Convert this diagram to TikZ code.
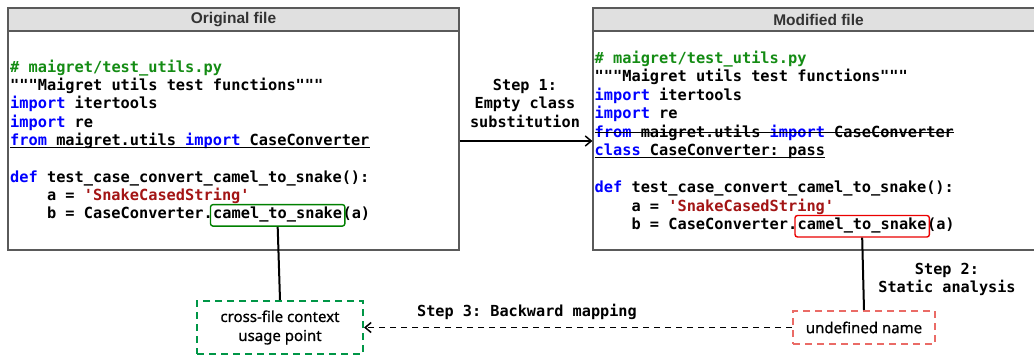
\documentclass[tikz,border=0pt]{standalone}
\usepackage{fontspec}
\setmainfont{Liberation Sans}
\setmonofont{DejaVu Sans Mono}
\newfontfamily\comicfont[FakeBold=0.8]{Noto Sans}
\usetikzlibrary{arrows.meta,fit}
\definecolor{cgreen}{RGB}{20,140,20}
\definecolor{cblue}{RGB}{0,0,255}
\definecolor{cred}{RGB}{163,21,21}
\definecolor{hdrfill}{RGB}{224,224,224}
\definecolor{boxgray}{RGB}{90,90,90}
\definecolor{hdrtext}{RGB}{51,51,51}
\definecolor{dgreen}{RGB}{0,150,70}
\definecolor{dred}{RGB}{234,107,102}
\definecolor{hlgreen}{RGB}{0,128,0}
\definecolor{hlred}{RGB}{235,0,0}
\begin{document}
\begin{tikzpicture}[x=1pt,y=-1pt,
  filebox/.style={draw=boxgray, line width=1.2pt, fill=white, minimum width=451pt, minimum height=242pt, inner sep=0pt},
  hdr/.style={draw=boxgray, line width=1.2pt, fill=hdrfill, minimum width=451pt, minimum height=23pt, inner sep=0pt,
    font=\fontsize{15.5}{17}\selectfont\bfseries, text=hdrtext},
  codeline/.style={anchor=base west, inner sep=0pt, font=\fontsize{15.3}{18}\selectfont\ttfamily\bfseries},
  hlword/.style={codeline, text height=10pt, text depth=3.5pt},
  hlbox/.style={draw, line width=1.4pt, rounded corners=2.5pt, inner xsep=2.5pt, inner ysep=3.8pt},
  steplabel/.style={align=center, inner sep=0pt, font=\fontsize{15.2}{18.5}\selectfont\ttfamily\bfseries},
  comicbox/.style={dashed, dash pattern=on 7pt off 5pt, line width=2pt, align=center, inner sep=0pt,
    font=\fontsize{15}{19}\selectfont\comicfont},
  conn/.style={line width=2pt},
  uline/.style={line width=1.2pt},
  arr/.style={line width=1.5pt, -{Straight Barb[length=6pt,width=10pt]}},
  dasharr/.style={line width=1.5pt, dash pattern=on 6pt off 5pt, -{Straight Barb[length=6pt,width=10pt]}}
]
\useasboundingbox (0,0) rectangle (1034,356);

% ---------- original file ----------
\node[filebox] (orig) at (233.5,129) {};
\node[hdr] (orighdr) at (233.5,19.5) {Original file};
\node[codeline] (l1) at (10,72) {\textcolor{cgreen}{\# maigret/test\_utils.py}};
\node[codeline] (l2) at (10,90.3) {"""Maigret utils test functions"""};
\node[codeline] (l3) at (10,108.6) {\textcolor{cblue}{import} itertools};
\node[codeline] (l4) at (10,127) {\textcolor{cblue}{import} re};
\node[codeline] (l5) at (10,145.3) {\textcolor{cblue}{from} maigret.utils \textcolor{cblue}{import} CaseConverter};
\draw[uline] ([yshift=-2pt]l5.base west) -- ([yshift=-2pt]l5.base east);
\node[codeline] (l6) at (10,182) {\textcolor{cblue}{def} test\_case\_convert\_camel\_to\_snake():};
\node[codeline] (l7) at (46.8,200.3) {a = \textcolor{cred}{'SnakeCasedString'}};
\node[codeline] (l8a) at (46.8,218.6) {b = CaseConverter.};
\node[hlword] (l8b) at (l8a.base east) {camel\_to\_snake};
\node[codeline] (l8c) at (l8b.base east) {(a)};
\node[hlbox, draw=hlgreen, fit=(l8b)] (hlL) {};

% ---------- modified file ----------
\node[filebox] (mod) at (818.5,129) {};
\node[hdr] (modhdr) at (818.5,19.5) {Modified file};
\node[codeline] (r1) at (594.5,63) {\textcolor{cgreen}{\# maigret/test\_utils.py}};
\node[codeline] (r2) at (594.5,81.5) {"""Maigret utils test functions"""};
\node[codeline] (r3) at (594.5,100) {\textcolor{cblue}{import} itertools};
\node[codeline] (r4) at (594.5,118.5) {\textcolor{cblue}{import} re};
\node[codeline] (r5) at (594.5,137) {\textcolor{cblue}{from} maigret.utils \textcolor{cblue}{import} CaseConverter};
\draw[uline] ([yshift=4.6pt]r5.base west) -- ([yshift=4.6pt]r5.base east);
\node[codeline] (r6) at (594.5,155.5) {\textcolor{cblue}{class} CaseConverter: pass};
\draw[uline] ([yshift=-2pt]r6.base west) -- ([yshift=-2pt]r6.base east);
\node[codeline] (r7) at (594.5,192.5) {\textcolor{cblue}{def} test\_case\_convert\_camel\_to\_snake():};
\node[codeline] (r8) at (631.3,211) {a = \textcolor{cred}{'SnakeCasedString'}};
\node[codeline] (r9a) at (631.3,229.5) {b = CaseConverter.};
\node[hlword] (r9b) at (r9a.base east) {camel\_to\_snake};
\node[codeline] (r9c) at (r9b.base east) {(a)};
\node[hlbox, draw=hlred, fit=(r9b)] (hlR) {};

% ---------- step 1 ----------
\coordinate (s1) at (526,141);
\draw[arr] (s1 -| orig.east) -- (s1 -| mod.west);
\node[steplabel] (step1) at (525,103) {Step 1:\\Empty class\\substitution};

% ---------- bottom boxes ----------
\node[comicbox, draw=dgreen, minimum width=166pt, minimum height=53pt] (ctx) at (280,327.5) {cross-file context\\usage point};
\node[comicbox, draw=dred, minimum width=142pt, minimum height=33pt] (undef) at (864,327.5) {undefined name};

% ---------- step 2 ----------
\draw[conn] (hlL.south) -- (ctx.north);
\draw[conn] (hlR.south) -- (undef.north);
\node[steplabel] (step2) at (947,279.5) {Step 2:\\Static analysis};

% ---------- step 3 ----------
\draw[dasharr] (undef.west) -- (ctx.east);
\node[steplabel, anchor=base] (step3) at (527,316) {Step 3: Backward mapping};
\end{tikzpicture}
\end{document}
